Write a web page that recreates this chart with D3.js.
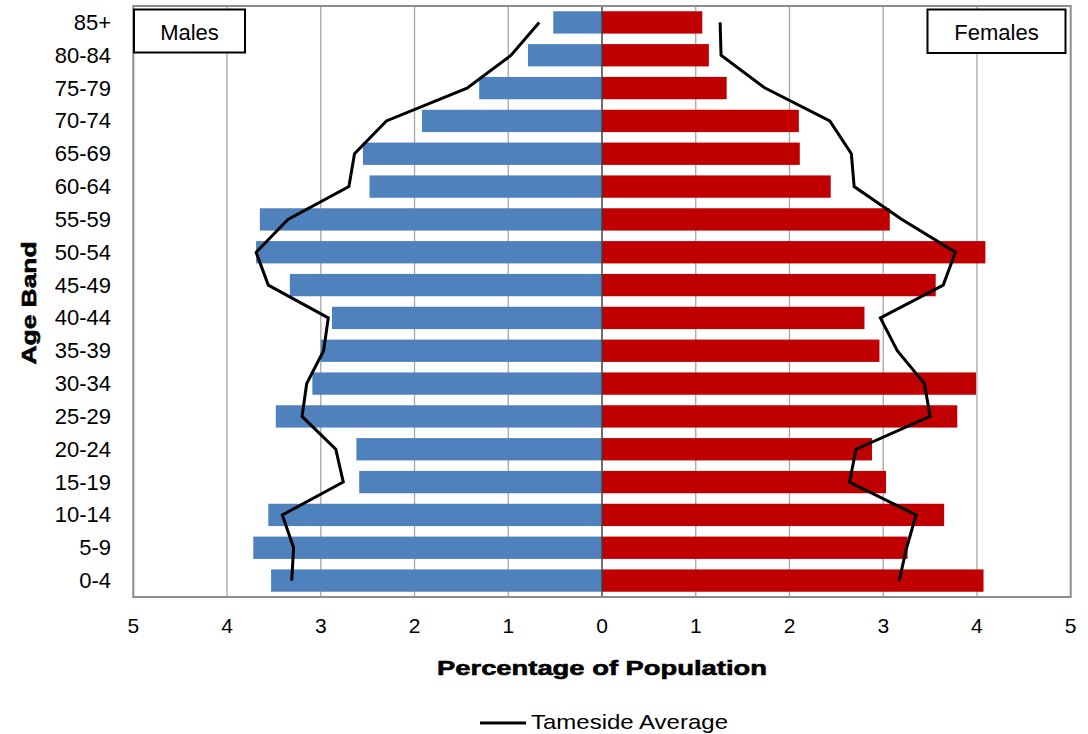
<!DOCTYPE html>
<html>
<head>
<meta charset="utf-8">
<script src="https://cdn.jsdelivr.net/npm/d3@7"></script>
<style>
  html, body { margin: 0; padding: 0; background: #fff; }
  svg { display: block; font-family: "Liberation Sans", Arial, sans-serif; }
</style>
</head>
<body>
<svg id="chart" width="1088" height="734"></svg>
<script>
// ---- Data ----
const ageBands = ["85+","80-84","75-79","70-74","65-69","60-64","55-59","50-54","45-49","40-44","35-39","30-34","25-29","20-24","15-19","10-14","5-9","0-4"];
const males    = [0.52,0.79,1.31,1.92,2.55,2.48,3.65,3.69,3.33,2.88,3.00,3.09,3.48,2.62,2.59,3.56,3.72,3.53];
const females  = [1.07,1.14,1.33,2.10,2.11,2.44,3.07,4.09,3.56,2.80,2.96,3.99,3.79,2.88,3.03,3.65,3.26,4.07];
const avgMales   = [0.67,0.97,1.44,2.30,2.64,2.70,3.35,3.69,3.56,2.92,2.97,3.15,3.20,2.84,2.76,3.41,3.29,3.31];
const avgFemales = [1.26,1.27,1.74,2.43,2.66,2.69,3.20,3.77,3.64,2.97,3.15,3.44,3.50,2.71,2.64,3.35,3.25,3.17];
const tickValues = [-5,-4,-3,-2,-1,0,1,2,3,4,5];
const tickLabels = ["5","4","3","2","1","0","1","2","3","4","5"];
const xTitle = "Percentage of Population";
const yTitle = "Age Band";
const legendLabel = "Tameside Average";
const malesLabel = "Males";
const femalesLabel = "Females";

// ---- Layout ----
const svg = d3.select("#chart");
const L = 133.3, R = 1070.7, T = 6, B = 597;

const x = d3.scaleLinear().domain([-5, 5]).range([L, R]);
const y = d3.scaleBand().domain(ageBands).range([T, B]).paddingInner(0.32).paddingOuter(0.16);
const yc = d => y(d) + y.bandwidth() / 2;

// gridlines
svg.append("g").selectAll("line").data(tickValues.filter(v => v !== 0 && Math.abs(v) !== 5)).join("line")
  .attr("x1", d => x(d)).attr("x2", d => x(d)).attr("y1", T).attr("y2", B)
  .attr("stroke", "#a6a6a6").attr("stroke-width", 1.3);

// bars
svg.append("g").selectAll("rect").data(ageBands).join("rect")
  .attr("x", (d, i) => x(-males[i])).attr("width", (d, i) => x(0) - x(-males[i]))
  .attr("y", d => y(d)).attr("height", y.bandwidth()).attr("fill", "#4f81bd");
svg.append("g").selectAll("rect").data(ageBands).join("rect")
  .attr("x", x(0)).attr("width", (d, i) => x(females[i]) - x(0))
  .attr("y", d => y(d)).attr("height", y.bandwidth()).attr("fill", "#c00000");

// zero line
svg.append("line").attr("x1", x(0)).attr("x2", x(0)).attr("y1", T).attr("y2", B)
  .attr("stroke", "#404040").attr("stroke-width", 1.5);

// frame
svg.append("rect").attr("x", L).attr("y", T).attr("width", R - L).attr("height", B - T)
  .attr("fill", "none").attr("stroke", "#8c8c8c").attr("stroke-width", 2);

// average lines
const line = d3.line().x(d => x(d[0])).y(d => yc(d[1]));
svg.append("path").datum(ageBands.map((a, i) => [-avgMales[i], a]))
  .attr("d", line).attr("fill", "none").attr("stroke", "#000").attr("stroke-width", 3).attr("stroke-linejoin", "miter");
svg.append("path").datum(ageBands.map((a, i) => [avgFemales[i], a]))
  .attr("d", line).attr("fill", "none").attr("stroke", "#000").attr("stroke-width", 3).attr("stroke-linejoin", "miter");

// y labels
svg.append("g").selectAll("text").data(ageBands).join("text")
  .attr("x", 111).attr("y", d => yc(d) + 7.5).attr("text-anchor", "end")
  .attr("font-size", 22).attr("fill", "#000").text(d => d);

// x tick labels
svg.append("g").selectAll("text").data(tickValues).join("text")
  .attr("x", d => x(d)).attr("y", 633).attr("text-anchor", "middle")
  .attr("font-size", 21).attr("fill", "#000").text((d, i) => tickLabels[i]);

// axis titles
svg.append("text").attr("x", x(0)).attr("y", 675).attr("text-anchor", "middle")
  .attr("font-size", 21).attr("font-weight", "bold").attr("textLength", 330).attr("lengthAdjust", "spacingAndGlyphs")
  .attr("stroke", "#000").attr("stroke-width", 0.6).text(xTitle);
svg.append("text").attr("transform", "translate(36,303) rotate(-90)").attr("text-anchor", "middle")
  .attr("font-size", 21).attr("font-weight", "bold").attr("textLength", 123).attr("lengthAdjust", "spacingAndGlyphs")
  .attr("stroke", "#000").attr("stroke-width", 0.6).text(yTitle);

// Males / Females boxes
svg.append("rect").attr("x", 134).attr("y", 9.5).attr("width", 111).attr("height", 43)
  .attr("fill", "#fff").attr("stroke", "#000").attr("stroke-width", 2);
svg.append("text").attr("x", 189.5).attr("y", 40).attr("text-anchor", "middle")
  .attr("font-size", 22).text(malesLabel);
svg.append("rect").attr("x", 927.5).attr("y", 9.5).attr("width", 138).attr("height", 43.5)
  .attr("fill", "#fff").attr("stroke", "#000").attr("stroke-width", 2);
svg.append("text").attr("x", 996.5).attr("y", 40).attr("text-anchor", "middle")
  .attr("font-size", 22).text(femalesLabel);

// legend
svg.append("line").attr("x1", 480).attr("x2", 526).attr("y1", 723).attr("y2", 723)
  .attr("stroke", "#000").attr("stroke-width", 3);
svg.append("text").attr("x", 531).attr("y", 729).attr("font-size", 21).attr("textLength", 197)
  .attr("lengthAdjust", "spacingAndGlyphs").text(legendLabel);
</script>
</body>
</html>
